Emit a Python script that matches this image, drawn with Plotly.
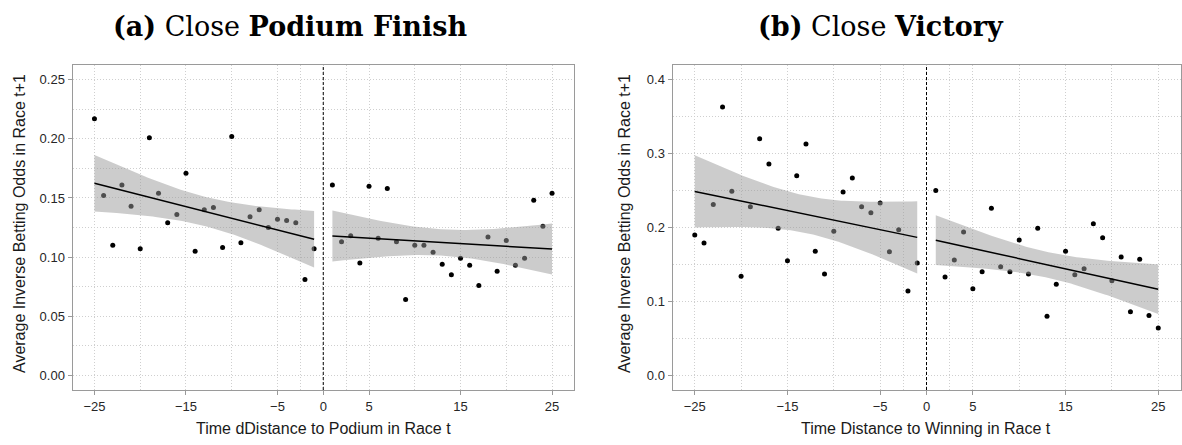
import numpy as np
import plotly.graph_objects as go

# ---- data: panel (a) close podium finish ----
pod_x_neg = list(range(-25, 0))
pod_y_neg = [0.217, 0.152, 0.110, 0.161, 0.143, 0.107, 0.201, 0.154, 0.129, 0.136,
             0.171, 0.105, 0.140, 0.142, 0.108, 0.202, 0.112, 0.134, 0.140, 0.125,
             0.132, 0.131, 0.129, 0.081, 0.107]
pod_x_pos = list(range(1, 26))
pod_y_pos = [0.161, 0.113, 0.118, 0.095, 0.160, 0.116, 0.158, 0.113, 0.064, 0.110,
             0.110, 0.104, 0.094, 0.085, 0.099, 0.093, 0.076, 0.117, 0.088, 0.114,
             0.093, 0.099, 0.148, 0.126, 0.154]

# ---- data: panel (b) close victory ----
win_x_neg = list(range(-25, 0))
win_y_neg = [0.190, 0.179, 0.231, 0.363, 0.249, 0.134, 0.228, 0.320, 0.286, 0.199,
             0.155, 0.270, 0.313, 0.168, 0.137, 0.195, 0.248, 0.267, 0.228, 0.220,
             0.233, 0.167, 0.197, 0.114, 0.152]
win_x_pos = list(range(1, 26))
win_y_pos = [0.250, 0.133, 0.156, 0.194, 0.117, 0.140, 0.226, 0.147, 0.140, 0.183,
             0.137, 0.199, 0.080, 0.123, 0.168, 0.136, 0.144, 0.205, 0.186, 0.128,
             0.160, 0.086, 0.157, 0.081, 0.064]

x_tickvals = [-25, -15, -5, 0, 5, 15, 25]
x_minorvals = [-20, -10, -2.5, 2.5, 10, 20]
pod_y_ticks = [0.00, 0.05, 0.10, 0.15, 0.20, 0.25]
pod_y_minor = [0.025, 0.075, 0.125, 0.175, 0.225]
win_y_ticks = [0.0, 0.1, 0.2, 0.3, 0.4]
win_y_minor = [0.05, 0.15, 0.25, 0.35]

T975 = 2.0687  # t quantile, 23 degrees of freedom


def lm_band(x, y):
    """OLS fit with 95% confidence band for the mean."""
    x = np.asarray(x, float)
    y = np.asarray(y, float)
    n = len(x)
    b1, b0 = np.polyfit(x, y, 1)
    resid = y - (b0 + b1 * x)
    s = np.sqrt(np.sum(resid ** 2) / (n - 2))
    sxx = np.sum((x - x.mean()) ** 2)
    xg = np.linspace(x.min(), x.max(), 80)
    fit = b0 + b1 * xg
    se = s * np.sqrt(1.0 / n + (xg - x.mean()) ** 2 / sxx)
    return xg, fit, fit - T975 * se, fit + T975 * se


fig = go.Figure()

RIBBON = "rgba(153,153,153,0.5)"

panels = [
    ("x", "y", [(pod_x_neg, pod_y_neg), (pod_x_pos, pod_y_pos)]),
    ("x2", "y2", [(win_x_neg, win_y_neg), (win_x_pos, win_y_pos)]),
]

for xa, ya, groups in panels:
    for gx, gy in groups:
        fig.add_trace(go.Scatter(
            x=gx, y=gy, mode="markers", xaxis=xa, yaxis=ya,
            marker=dict(color="black", size=5), showlegend=False, hoverinfo="skip"))
    for gx, gy in groups:
        xg, fit, lo, hi = lm_band(gx, gy)
        fig.add_trace(go.Scatter(
            x=np.concatenate([xg, xg[::-1]]), y=np.concatenate([hi, lo[::-1]]),
            mode="lines", fill="toself", fillcolor=RIBBON, line=dict(width=0),
            xaxis=xa, yaxis=ya, showlegend=False, hoverinfo="skip"))
        fig.add_trace(go.Scatter(
            x=xg, y=fit, mode="lines", line=dict(color="black", width=1.5),
            xaxis=xa, yaxis=ya, showlegend=False, hoverinfo="skip"))

GRID = "#cfcfcf"
GRIDDASH = "1px,2px"
FRAME = "#9a9a9a"
TICKFONT = dict(family="Liberation Sans, Arial, sans-serif", size=13, color="#262626")


def xaxis_style(domain, anchor):
    return dict(
        domain=domain, anchor=anchor, range=[-27.4, 27.4],
        tickmode="array", tickvals=x_tickvals,
        ticktext=[str(v).replace("-", "\u2212") for v in x_tickvals],
        showgrid=True, gridcolor=GRID, griddash=GRIDDASH, gridwidth=1,
        minor=dict(tickvals=x_minorvals, showgrid=True, gridcolor=GRID,
                   griddash=GRIDDASH, gridwidth=1),
        zeroline=False, showline=True, mirror=True, linecolor=FRAME, linewidth=1,
        ticks="outside", ticklen=4, tickcolor=FRAME, tickfont=TICKFONT)


def yaxis_style(domain, anchor, rng, ticks, minor, fmt):
    return dict(
        domain=domain, anchor=anchor, range=rng,
        tickmode="array", tickvals=ticks, ticktext=[fmt.format(v) for v in ticks],
        showgrid=True, gridcolor=GRID, griddash=GRIDDASH, gridwidth=1,
        minor=dict(tickvals=minor, showgrid=True, gridcolor=GRID,
                   griddash=GRIDDASH, gridwidth=1),
        zeroline=False, showline=True, mirror=True, linecolor=FRAME, linewidth=1,
        ticks="outside", ticklen=4, tickcolor=FRAME, tickfont=TICKFONT)


W, H = 1182, 445
ydom = [(H - 390) / H, (H - 65) / H]
fig.update_layout(
    width=W, height=H, margin=dict(l=0, r=0, t=0, b=0),
    plot_bgcolor="white", paper_bgcolor="white",
    xaxis=xaxis_style([72.5 / W, 574 / W], "y"),
    yaxis=yaxis_style(ydom, "x", [-0.0125, 0.2625], pod_y_ticks, pod_y_minor, "{:.2f}"),
    xaxis2=xaxis_style([672.5 / W, 1180.5 / W], "y2"),
    yaxis2=yaxis_style(ydom, "x2", [-0.02, 0.42], win_y_ticks, win_y_minor, "{:.1f}"),
)

# dashed cut-off at zero
for xa, ya in [("x", "y"), ("x2", "y2")]:
    fig.add_shape(type="line", xref=xa, yref=f"{ya} domain", x0=0, x1=0, y0=0, y1=1,
                  line=dict(color="black", width=1, dash="3px,2px"))

AXFONT = dict(family="Liberation Sans, Arial, sans-serif", size=16, color="#1a1a1a")
TITLEFONT = dict(family="DejaVu Serif, serif", size=27, color="black")

annotations = [
    dict(text="<b>(a)</b> Close <b>Podium Finish</b>", x=290 / W, y=(H - 26) / H,
         font=TITLEFONT),
    dict(text="<b>(b)</b> Close <b>Victory</b>", x=881 / W, y=(H - 26) / H,
         font=TITLEFONT),
    dict(text="Time dDistance to Podium in Race t", x=323 / W, y=(H - 428) / H,
         font=AXFONT),
    dict(text="Time Distance to Winning in Race t", x=926 / W, y=(H - 428) / H,
         font=AXFONT),
    dict(text="Average Inverse Betting Odds in Race t+1", x=19 / W, y=(H - 224) / H,
         textangle=-90, font=AXFONT),
    dict(text="Average Inverse Betting Odds in Race t+1", x=624 / W, y=(H - 224) / H,
         textangle=-90, font=AXFONT),
]
for a in annotations:
    fig.add_annotation(xref="paper", yref="paper", showarrow=False,
                       xanchor="center", yanchor="middle", **a)

fig.write_html("out.html")
